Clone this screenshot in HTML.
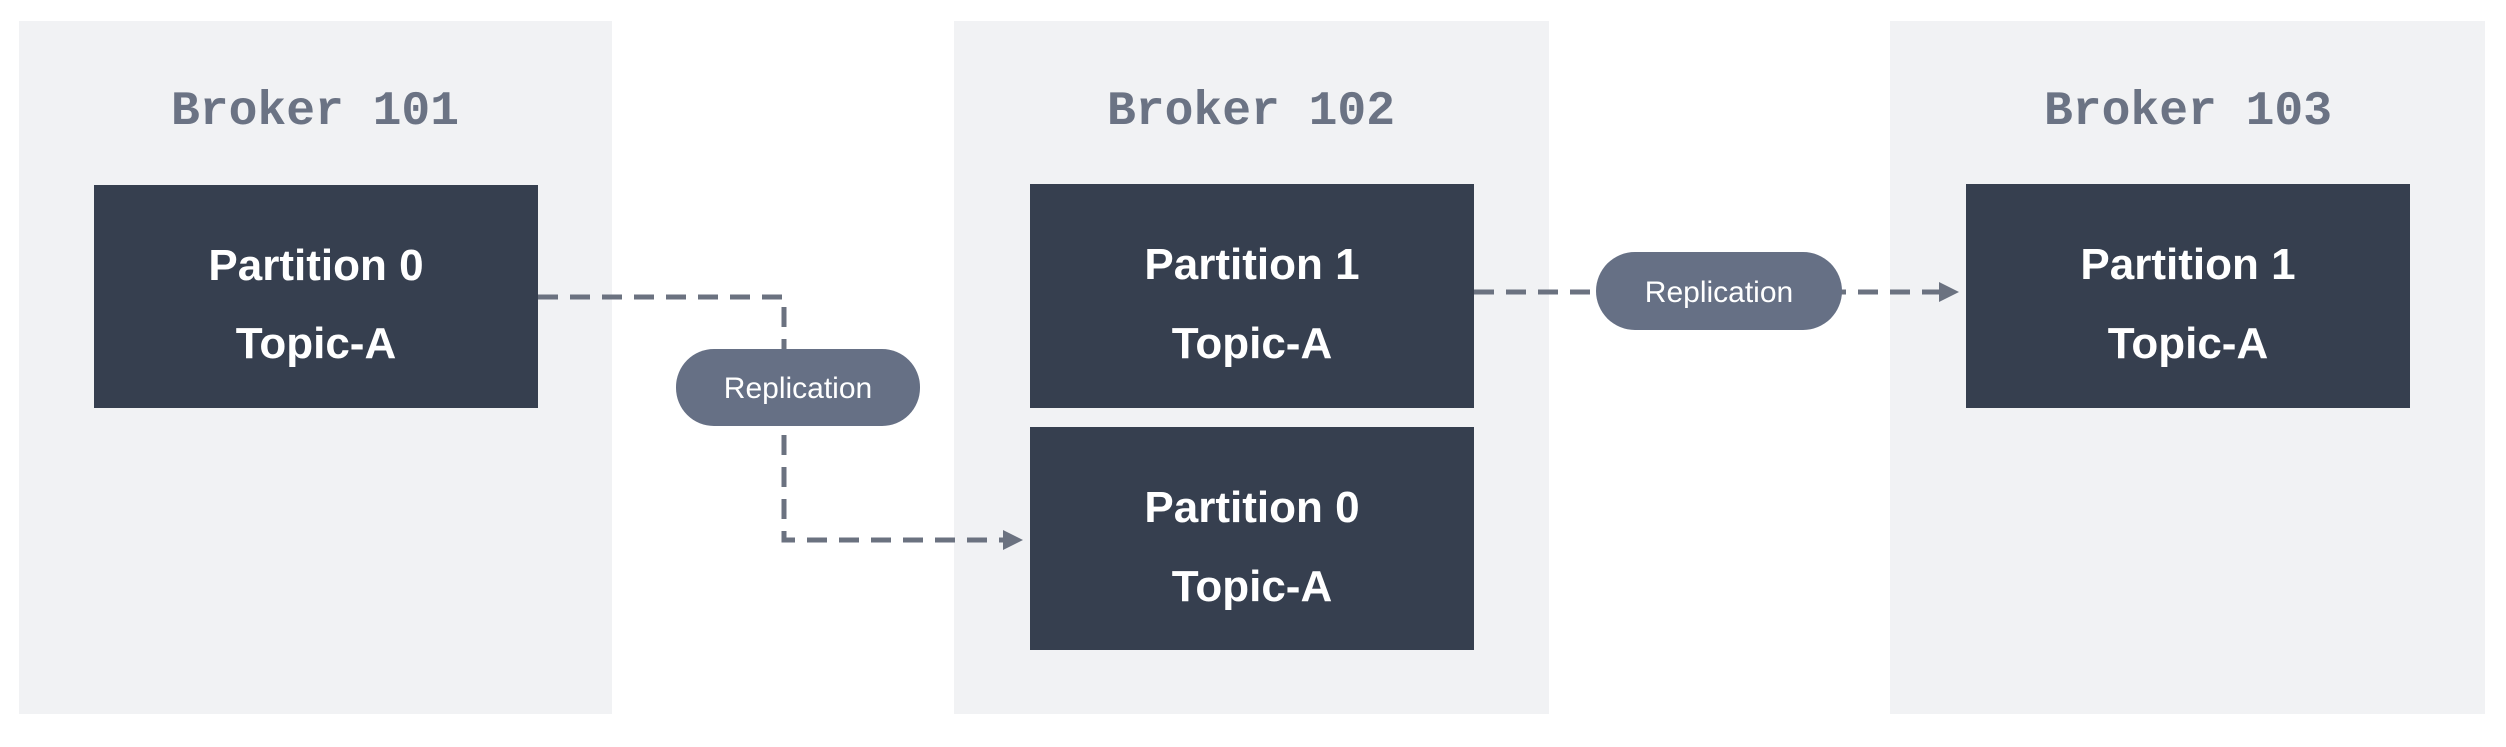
<!DOCTYPE html>
<html><head><meta charset="utf-8"><style>
html,body{margin:0;padding:0;background:#fff;}
body{width:2506px;height:742px;position:relative;overflow:hidden;}
</style></head><body>
<svg width="2506" height="742" viewBox="0 0 2506 742" xmlns="http://www.w3.org/2000/svg">
<defs>
<marker id="ar" markerWidth="4" markerHeight="4" refX="3" refY="2" orient="auto" markerUnits="strokeWidth">
<path d="M0,0 L4,2 L0,4 z" fill="#6b7280"/>
</marker>
</defs>
<rect x="19" y="21" width="593" height="693" fill="#f1f2f4"/>
<rect x="954" y="21" width="595" height="693" fill="#f1f2f4"/>
<rect x="1890" y="21" width="595" height="693" fill="#f1f2f4"/>
<g font-family="Liberation Mono, monospace" font-weight="bold" font-size="48" fill="#6b7384" text-anchor="middle">
<text x="315" y="124">Broker 101</text>
<text x="1251" y="124">Broker 102</text>
<text x="2188" y="124">Broker 103</text>
</g>
<rect x="94" y="185" width="444" height="223" fill="#363f4f"/>
<rect x="1030" y="184" width="444" height="224" fill="#363f4f"/>
<rect x="1030" y="427" width="444" height="223" fill="#363f4f"/>
<rect x="1966" y="184" width="444" height="224" fill="#363f4f"/>
<g font-family="Liberation Sans, sans-serif" font-weight="bold" font-size="44" fill="#fff" text-anchor="middle">
<text x="316" y="280">Partition 0</text><text x="316" y="358">Topic-A</text>
<text x="1252" y="279">Partition 1</text><text x="1252" y="358">Topic-A</text>
<text x="1252" y="522">Partition 0</text><text x="1252" y="601">Topic-A</text>
<text x="2188" y="279">Partition 1</text><text x="2188" y="358">Topic-A</text>
</g>
<g fill="none" stroke="#6b7280" stroke-width="5" stroke-dasharray="20 12">
<path d="M538 297 H784 V540 H1018" marker-end="url(#ar)"/>
<path d="M1474 292 H1954" marker-end="url(#ar)"/>
</g>
<rect x="676" y="349" width="244" height="77" rx="38" fill="#667085"/>
<rect x="1596" y="252" width="246" height="78" rx="39" fill="#667085"/>
<g font-family="Liberation Sans, sans-serif" font-size="30" fill="#fff" text-anchor="middle">
<text x="798" y="398">Replication</text>
<text x="1719" y="302">Replication</text>
</g>
</svg>
</body></html>
